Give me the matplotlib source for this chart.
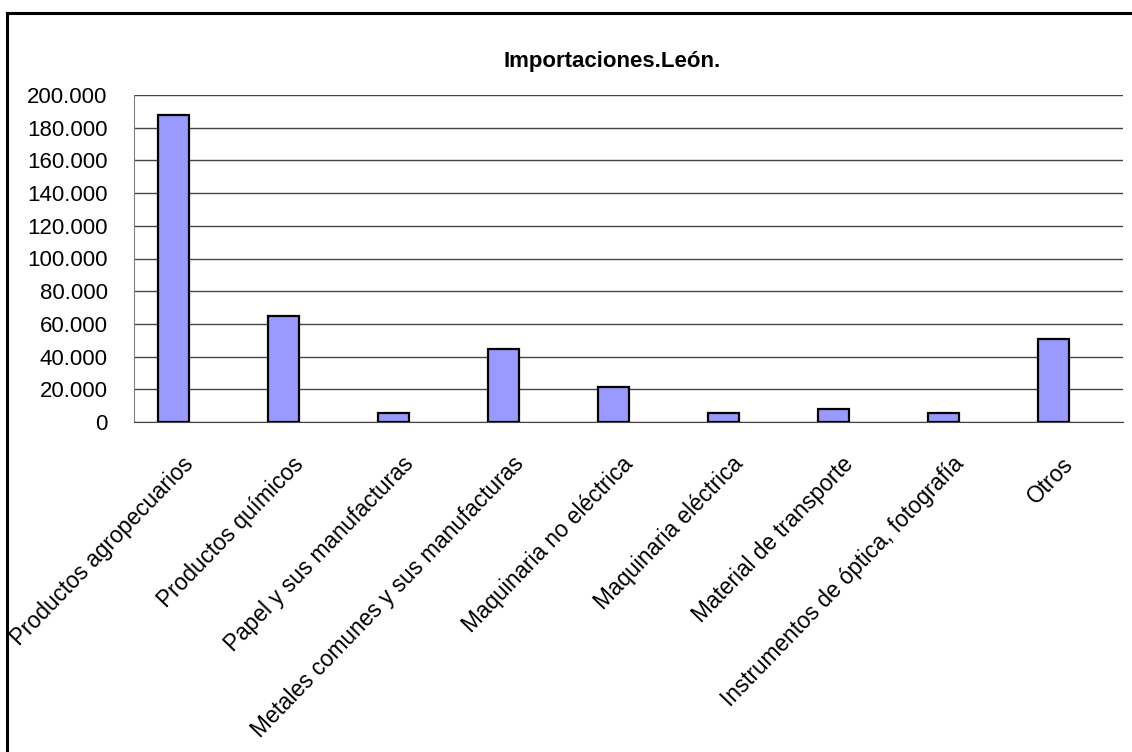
import matplotlib
matplotlib.use("Agg")
import matplotlib.pyplot as plt
import matplotlib.transforms as mtransforms
import numpy as np
from matplotlib.lines import Line2D
from matplotlib.ticker import FuncFormatter

# Data
categories = [
    "Productos agropecuarios",
    "Productos químicos",
    "Papel y sus manufacturas",
    "Metales comunes y sus manufacturas",
    "Maquinaria no eléctrica",
    "Maquinaria eléctrica",
    "Material de transporte",
    "Instrumentos de óptica, fotografía",
    "Otros",
]
values = [188000, 65000, 5600, 44800, 21600, 5500, 8100, 5300, 50800]
y_ticks = np.arange(0, 200001, 20000)

font = ["Liberation Sans", "DejaVu Sans"]

fig = plt.figure(figsize=(11.32, 7.52), dpi=100)
ax = fig.add_axes([134 / 1132, 1 - 422 / 752, (1123 - 134) / 1132, (422 - 95) / 752])

x = np.arange(len(categories))
ax.bar(x, values, width=0.28, color="#9999FF", edgecolor="black", linewidth=1.6, zorder=3)

# plot area is a bit wider on the right than on the left
ax.set_xlim(-0.36, len(categories) - 1 + 0.63)
ax.set_ylim(0, 200000)
ax.set_yticks(y_ticks)
ax.yaxis.set_major_formatter(FuncFormatter(lambda v, p: f"{int(v):,}".replace(",", ".")))
ax.grid(axis="y", color="#444444", linewidth=1, zorder=0)
ax.tick_params(axis="y", length=0, pad=19, labelsize=16)
for lab in ax.get_yticklabels():
    lab.set_family(font)

ax.set_xticks(x)
ax.set_xticklabels(categories, rotation=46, ha="right", va="top",
                   rotation_mode="anchor", fontsize=16.3, family=font)
ax.tick_params(axis="x", length=0, pad=22)
shift = mtransforms.ScaledTranslation(8 / 100, 0, fig.dpi_scale_trans)
for lab in ax.get_xticklabels():
    lab.set_transform(lab.get_transform() + shift)

for side in ("top", "right"):
    ax.spines[side].set_visible(False)
ax.spines["left"].set_color("#808080")
ax.spines["bottom"].set_color("#444444")

fig.text(612 / 1132, 1 - 62 / 752, "Importaciones.León.", ha="center", va="center",
         fontsize=16, fontweight="bold", family=font)

# outer chart frame (left and top edges visible)
fig.add_artist(Line2D([7 / 1132, 7 / 1132], [0, 1 - 13 / 752], color="black", lw=2.2,
                      transform=fig.transFigure))
fig.add_artist(Line2D([7 / 1132, 1], [1 - 13 / 752, 1 - 13 / 752], color="black", lw=2.2,
                      transform=fig.transFigure))

fig.savefig("out.png", dpi=100)
